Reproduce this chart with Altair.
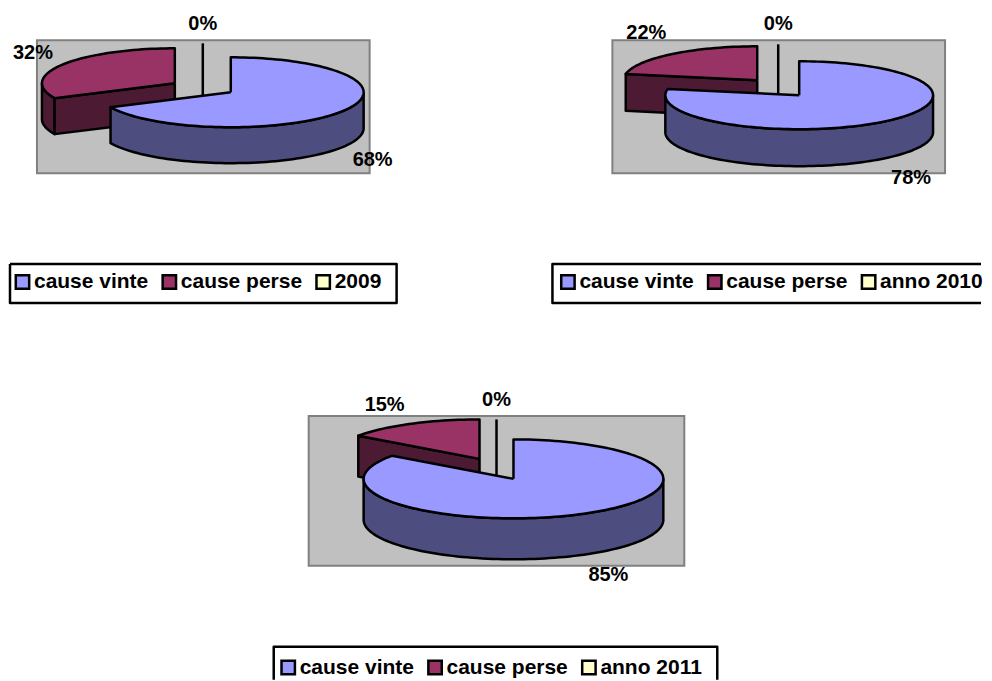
import math
import altair as alt
import pandas as pd

# --- chart values ---
won_share = [68, 78, 85]
lost_share = [32, 22, 15]
empty_share = [0, 0, 0]
series_won = "cause vinte"
series_lost = "cause perse"
third_series = ["2009", "anno 2010", "anno 2011"]

# --- colours ---
WON_TOP, WON_WALL = "#9999FF", "#4D4D80"
LOST_TOP, LOST_WALL = "#993366", "#4D1A33"
THIRD_TOP = "#FFFFCC"
FONT = "Liberation Sans"
FONT_SIZE = 20
LEGEND_FONT_SIZE = 21
STROKE = 2.5

# --- layout of each panel, pixels relative to the panel's grey plot area ---
PANELS = [
    dict(w=333, h=133, c=(194, 52), rx=133, ry=35, d=36, lost=(138, 43), zero=(166, 38),
         labels=[(336, 120), (-4, 13), (166, -16)],
         box=[(-27, 224), (360, 224), (360, 263), (-27, 263), (-27, 224)], legend=(-25, 231), colpad=8),
    dict(w=333, h=133, c=(187, 55), rx=134, ry=34, d=37, lost=(145, 40), zero=(166, 38),
         labels=[(299, 138), (34, -7), (166, -16)],
         box=[(369, 224), (-60, 224), (-60, 263), (369, 263)], legend=(-55, 231), colpad=8),
    dict(w=376, h=150, c=(205, 63), rx=150, ry=39.5, d=41, lost=(171, 43), zero=(188, 43),
         labels=[(300, 159), (76, -11), (188, -16)],
         box=[(-35, 264), (-35, 231), (409, 231), (409, 264)], legend=(-31, 241), colpad=8),
]


def arc(c, rx, ry, a0, a1, dy=0, step=2.0):
    n = max(1, int(abs(a1 - a0) / step))
    out = []
    for k in range(n + 1):
        t = math.radians(a0 + (a1 - a0) * k / n)
        out.append((c[0] + rx * math.sin(t), c[1] - ry * math.cos(t) + dy))
    return out


def path(points, x_scale, y_scale, fill=None, closed=True):
    pts = list(points) + ([points[0]] if closed else [])
    df = pd.DataFrame({"x": [p[0] for p in pts], "y": [p[1] for p in pts],
                       "i": list(range(len(pts)))})
    style = dict(stroke="black", strokeWidth=STROKE, strokeJoin="round")
    if fill:
        style["fill"] = fill
    return alt.Chart(df).mark_line(**style).encode(
        x=alt.X("x:Q", scale=x_scale, axis=None),
        y=alt.Y("y:Q", scale=y_scale, axis=None),
        order="i:Q",
    )


def panel(idx):
    p = PANELS[idx]
    won, lost, empty = won_share[idx], lost_share[idx], empty_share[idx]
    sx = alt.Scale(domain=[0, p["w"]], nice=False, zero=False)
    sy = alt.Scale(domain=[p["h"], 0], nice=False, zero=False)
    rx, ry, d = p["rx"], p["ry"], p["d"]
    cut = won * 3.6
    layers = []

    # legend frame
    layers.append(path(p["box"], sx, sy, closed=False))

    # empty slice: only an edge
    z = p["zero"]
    layers.append(path([(z[0], z[1] - ry), (z[0], z[1] + d)], sx, sy, closed=False))

    # lost slice
    c = p["lost"]
    front = arc(c, rx, ry, cut, max(cut, 270)) if cut < 270 else []
    if front:
        layers.append(path(front + [(x, y + d) for x, y in reversed(front)], sx, sy, LOST_WALL))
    end = arc(c, rx, ry, cut, cut)[0]
    layers.append(path([c, end, (end[0], end[1] + d), (c[0], c[1] + d)], sx, sy, LOST_WALL))
    layers.append(path([c] + arc(c, rx, ry, cut, 360), sx, sy, LOST_TOP))

    # won slice
    c = p["c"]
    outer = arc(c, rx, ry, 90, min(cut, 270))
    layers.append(path(outer + [(x, y + d) for x, y in reversed(outer)], sx, sy, WON_WALL))
    layers.append(path([c] + arc(c, rx, ry, 0, cut), sx, sy, WON_TOP))

    # percent labels
    shares = [won, lost, empty]
    labels = pd.DataFrame({
        "x": [q[0] for q in p["labels"]],
        "y": [q[1] for q in p["labels"]],
        "t": [f"{v}%" for v in shares],
    })
    layers.append(
        alt.Chart(labels).mark_text(
            font=FONT, fontSize=FONT_SIZE, fontWeight="bold", color="black",
            align="center", baseline="middle",
        ).encode(x=alt.X("x:Q", scale=sx, axis=None), y=alt.Y("y:Q", scale=sy, axis=None), text="t:N")
    )

    # legend, carried by a zero-size layer
    names = [series_won, series_lost, third_series[idx]]
    layers.append(
        alt.Chart(pd.DataFrame({"series": names})).mark_square(size=0, opacity=1).encode(
            x=alt.value(0), y=alt.value(0),
            fill=alt.Fill(
                "series:N",
                sort=None,
                scale=alt.Scale(domain=names, range=[WON_TOP, LOST_TOP, THIRD_TOP]),
                legend=alt.Legend(
                    title=None, orient="none", direction="horizontal", columns=3,
                    legendX=p["legend"][0], legendY=p["legend"][1],
                    symbolType="square", symbolSize=180, symbolStrokeColor="black",
                    symbolStrokeWidth=STROKE, symbolOpacity=1,
                    labelFont=FONT, labelFontSize=LEGEND_FONT_SIZE, labelFontWeight="bold",
                    labelColor="black", labelOffset=1, labelLimit=300,
                    columnPadding=p["colpad"], padding=0,
                ),
            ),
        )
    )
    return alt.layer(*layers).properties(
        width=p["w"], height=p["h"],
        view=alt.ViewBackground(fill="#C0C0C0", stroke="#808080", strokeWidth=2),
    )


spacer = alt.Chart(pd.DataFrame({"k": [0]})).mark_point(opacity=0, size=0).encode(
    x=alt.value(0), y=alt.value(0)
).properties(width=272, height=150, view=alt.ViewBackground(stroke=None))

row1 = alt.hconcat(panel(0), panel(1), spacing=243, bounds="flush").resolve_scale(fill="independent")
row2 = alt.hconcat(spacer, panel(2), spacing=0, bounds="flush").resolve_scale(fill="independent")
chart = alt.vconcat(row1, row2, spacing=376, bounds="flush").resolve_scale(fill="independent").properties(
    padding={"left": -1, "top": 5, "right": 0, "bottom": 0},
    background="white",
)
chart.save("out.html", embed_options={"renderer": "svg", "actions": False})
